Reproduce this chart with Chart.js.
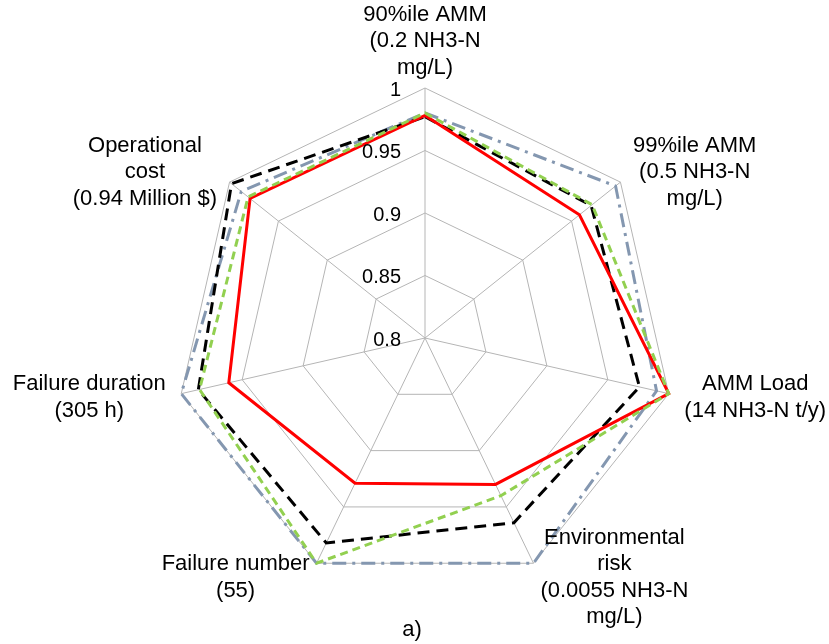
<!DOCTYPE html>
<html>
<head>
<meta charset="utf-8">
<script src="https://cdn.jsdelivr.net/npm/chart.js@4.4.0/dist/chart.umd.min.js"></script>
<style>
  html, body { margin: 0; padding: 0; background: #fff; }
  canvas { display: block; }
</style>
</head>
<body>
<canvas id="radar" width="829" height="644"></canvas>
<script>
// axis labels, one entry per spoke (lines as wrapped in the figure)
const axisLabels = [
  ['90%ile AMM', '(0.2 NH3-N', 'mg/L)'],
  ['99%ile AMM', '(0.5 NH3-N', 'mg/L)'],
  ['AMM Load', '(14 NH3-N t/y)'],
  ['Environmental', 'risk', '(0.0055 NH3-N', 'mg/L)'],
  ['Failure number', '(55)'],
  ['Failure duration', '(305 h)'],
  ['Operational', 'cost', '(0.94 Million $)']
];
const tickLabels = [0.8, 0.85, 0.9, 0.95, 1];
const caption = 'a)';

// normalised performance
const redSeries   = [0.978, 0.958, 1.000, 0.930, 0.929, 0.961, 0.979];
const blackSeries = [0.977, 0.970, 0.976, 0.964, 0.982, 0.986, 0.998];
const greenSeries = [0.980, 0.971, 1.000, 0.940, 1.000, 0.985, 0.981];
const greySeries  = [0.980, 0.995, 0.990, 1.000, 1.000, 1.000, 0.988];

const fontFamily = '"Liberation Sans", Arial, sans-serif';

const excelLabels = {
  id: 'excelLabels',
  afterDraw(chart) {
    const scale = chart.scales.r;
    const c = chart.ctx;
    c.save();
    c.fillStyle = '#000';

    // tick values sit left of the vertical spoke
    c.font = `20px ${fontFamily}`;
    c.textAlign = 'right';
    c.textBaseline = 'middle';
    tickLabels.forEach(t => {
      const d = scale.getDistanceFromCenterForValue(t);
      c.fillText(String(t), scale.xCenter - 24, scale.yCenter - d + 2);
    });

    // category labels
    c.font = `22px ${fontFamily}`;
    c.textAlign = 'center';
    const lh = 26.5;
    axisLabels.forEach((lines, i) => {
      const p = scale.getPointPosition(i, scale.drawingArea + 16);
      const w = Math.max(...lines.map(l => c.measureText(l).width));
      const h = lines.length * lh;
      const cos = Math.cos(p.angle);
      let cx, top;
      if (Math.abs(cos) < 0.05) {
        cx = p.x;
        top = scale.yCenter - scale.drawingArea - 7 - h;
      } else {
        cx = cos > 0 ? p.x + w / 2 : p.x - w / 2;
        top = p.y - h / 2;
      }
      lines.forEach((l, k) => c.fillText(l, cx, top + lh * (k + 0.5)));
    });

    c.fillText(caption, scale.xCenter - 13, 630);
    c.restore();
  }
};

new Chart(document.getElementById('radar'), {
  type: 'radar',
  data: {
    labels: axisLabels,
    datasets: [
      {
        label: 'green',
        data: greenSeries,
        borderColor: '#92d050',
        borderWidth: 3,
        borderDash: [8, 5]
      },
      {
        label: 'red',
        data: redSeries,
        borderColor: '#ff0000',
        borderWidth: 3
      },
      {
        label: 'black',
        data: blackSeries,
        borderColor: '#000000',
        borderWidth: 3,
        borderDash: [12, 7]
      },
      {
        label: 'grey',
        data: greySeries,
        borderColor: '#8497b0',
        borderWidth: 3,
        borderDash: [14, 6, 3, 6]
      }
    ]
  },
  options: {
    responsive: false,
    animation: false,
    layout: { padding: { left: 175, right: 154, top: 88, bottom: 56 } },
    elements: {
      line: { fill: false, tension: 0, borderCapStyle: 'butt' },
      point: { radius: 0, hoverRadius: 0 }
    },
    scales: {
      r: {
        min: 0.8,
        max: 1,
        beginAtZero: false,
        ticks: { display: false, stepSize: 0.05 },
        grid: { color: '#b5b5b5', lineWidth: 1 },
        angleLines: { color: '#b5b5b5', lineWidth: 1 },
        pointLabels: { display: false }
      }
    },
    plugins: {
      legend: { display: false },
      tooltip: { enabled: false }
    }
  },
  plugins: [excelLabels]
});
</script>
</body>
</html>
